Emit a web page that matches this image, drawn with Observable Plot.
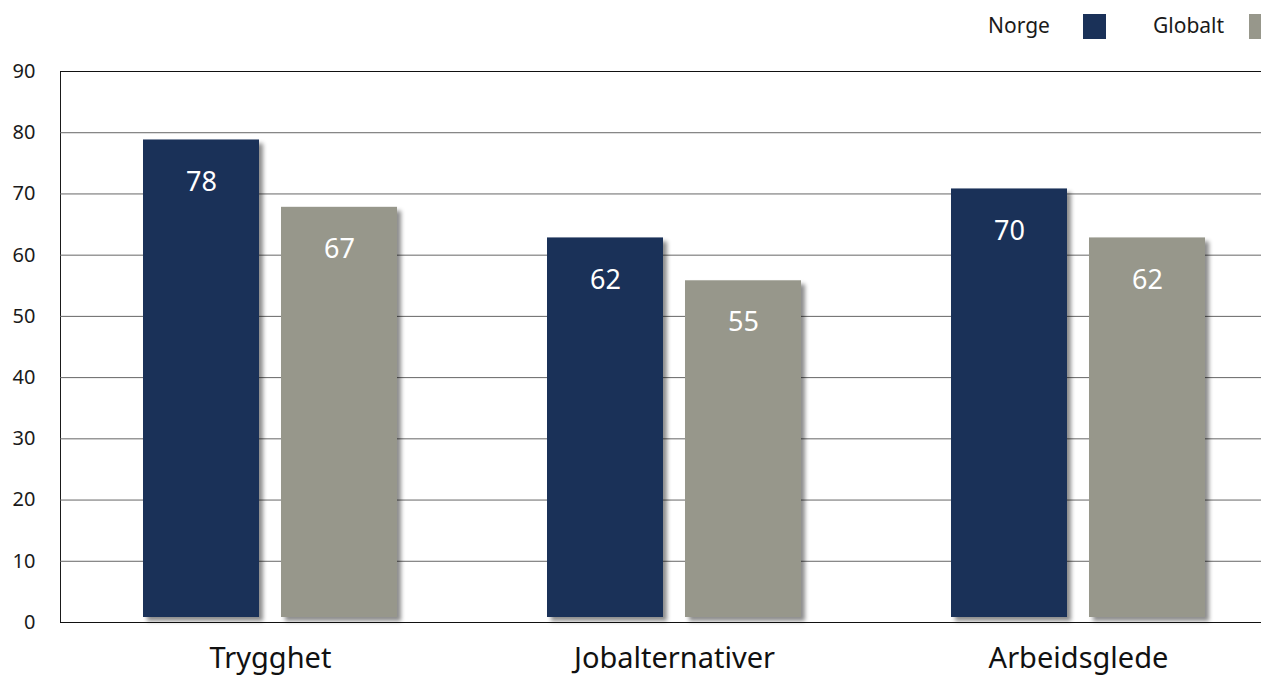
<!DOCTYPE html>
<html>
<head>
<meta charset="utf-8">
<script src="https://cdn.jsdelivr.net/npm/d3@7"></script>
<script src="https://cdn.jsdelivr.net/npm/@observablehq/plot@0.6"></script>
<style>
  html, body { margin: 0; padding: 0; background: #fff; overflow: hidden; }
  #wrap { position: relative; width: 1261px; height: 677px; font-family: "Noto Sans", sans-serif; }
  #legend { position: absolute; top: 0; left: 0; width: 1261px; height: 50px; z-index: 2; font-size: 21px; color: #1a1a1a; }
  #legend span.lbl { position: absolute; top: 11px; line-height: 28px; }
  #legend span.sw { position: absolute; top: 14px; width: 23px; height: 25px; }
  #chart svg g[aria-label="bar"] { filter: drop-shadow(4px 4px 2px rgba(0,0,0,0.45)); }
</style>
</head>
<body>
<div id="wrap">
  <div id="legend"></div>
  <div id="chart"></div>
</div>
<script>
// Survey scores per category, Norway vs. global average
const categories = ["Trygghet", "Jobalternativer", "Arbeidsglede"];
const norge = [78, 62, 70];
const globalt = [67, 55, 62];
const seriesNames = ["Norge", "Globalt"];
const seriesColors = ["#1a3158", "#97978b"];
const yTicks = [0, 10, 20, 30, 40, 50, 60, 70, 80, 90];

const norgeRows = categories.map((c, i) => ({category: c, value: norge[i]}));
const globaltRows = categories.map((c, i) => ({category: c, value: globalt[i]}));

// legend above the plot
const legend = document.getElementById("legend");
const legendPos = [{lbl: 988, sw: 1083}, {lbl: 1153, sw: 1249}];
seriesNames.forEach((name, i) => {
  const t = document.createElement("span");
  t.className = "lbl"; t.textContent = name; t.style.left = legendPos[i].lbl + "px";
  const s = document.createElement("span");
  s.className = "sw"; s.style.background = seriesColors[i]; s.style.left = legendPos[i].sw + "px";
  legend.append(t, s);
});

const chart = Plot.plot({
  width: 1261,
  height: 677,
  marginTop: 71,
  marginBottom: 55,
  marginLeft: 60,
  marginRight: 0,
  style: {fontFamily: "Noto Sans, sans-serif", fontSize: "20px", background: "#fff", color: "#1a1a1a"},
  x: {domain: categories, range: [68, 1280], padding: 0, axis: null},
  y: {domain: [0, 90], ticks: yTicks, tickSize: 0, tickPadding: 25, line: true, label: null},
  marks: [
    Plot.ruleY(yTicks.filter(v => v > 0 && v < 90), {stroke: "#666", strokeWidth: 1}),
    Plot.ruleY([0, 90], {stroke: "#111", strokeWidth: 1.2}),
    Plot.barY(norgeRows, {x: "category", y: "value", fill: seriesColors[0], insetLeft: 75, insetRight: 213, dy: -5}),
    Plot.barY(globaltRows, {x: "category", y: "value", fill: seriesColors[1], insetLeft: 213, insetRight: 75, dy: -5}),
    Plot.text(norgeRows, {x: "category", y: "value", text: d => String(d.value), dx: -69, dy: 37, fill: "#fff", fontSize: 27}),
    Plot.text(globaltRows, {x: "category", y: "value", text: d => String(d.value), dx: 69, dy: 37, fill: "#fff", fontSize: 27}),
    Plot.axisX({tickSize: 0, tickPadding: 25, fontSize: 29, fill: "#111", label: null})
  ]
});
document.getElementById("chart").append(chart);
</script>
</body>
</html>
